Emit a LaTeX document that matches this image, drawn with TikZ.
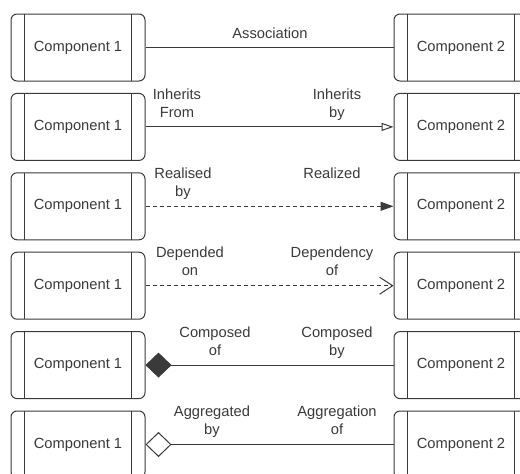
\documentclass[tikz,border=0pt]{standalone}
\usepackage{fontspec}
\setmainfont{Liberation Sans}
\usetikzlibrary{arrows.meta, positioning}
\definecolor{ink}{HTML}{3A3A3A}

\begin{document}
\begin{tikzpicture}[
  x=1pt, y=-1pt,
  comp/.style={rectangle, draw=ink, line width=1pt, rounded corners=6pt,
               minimum width=134pt, minimum height=67pt, inner sep=0pt,
               text=ink, font=\fontsize{14.7}{18}\selectfont,
               path picture={
                 \draw[ink, line width=1pt, sharp corners]
                   ([xshift=13.5pt]path picture bounding box.north west) --
                   ([xshift=13.5pt]path picture bounding box.south west)
                   ([xshift=-13.5pt]path picture bounding box.north east) --
                   ([xshift=-13.5pt]path picture bounding box.south east);}},
  lbl/.style={anchor=north, inner sep=0pt, align=center, text=ink,
              font=\fontsize{14.7}{18}\selectfont},
  link/.style={draw=ink, line width=1pt},
  dashlink/.style={link, dash pattern=on 4pt off 3pt}
]

\useasboundingbox[fill=white] (0,0) rectangle (520,474);

% boxes, one pair per row
\foreach \i in {1,...,6} {
  \pgfmathsetmacro{\rowy}{47.5+79.4*(\i-1)}
  \node[comp] (left\i) at (78,\rowy) {Component 1};
  \node[comp] (right\i) at (461,\rowy) {Component 2};
}

% association
\draw[link] (left1) -- (right1);
\node[lbl] (assoc) at (270,27.5) {Association};

% inheritance
\draw[link, -{Triangle[open, length=12pt, width=8pt]}] (left2) -- (right2);
\node[lbl] (inhfrom) at (177,88.2) {Inherits\\From};
\node[lbl] (inhby) at (337,88.2) {Inherits\\by};

% realisation
\draw[dashlink, -{Triangle[length=13pt, width=9pt]}] (left3) -- (right3);
\node[lbl] (realby) at (183,167.6) {Realised\\by};
\node[lbl] (realized) at (332,167.6) {Realized};

% dependency
\draw[dashlink, -{Straight Barb[length=13pt, width=17pt]}] (left4) -- (right4);
\node[lbl] (depon) at (190,247) {Depended\\on};
\node[lbl] (depof) at (332,247) {Dependency\\of};

% composition
\draw[link, {Diamond[length=26pt, width=25pt, fill=ink]}-] (left5) -- (right5);
\node[lbl] (compof) at (215,326.4) {Composed\\of};
\node[lbl] (compby) at (337,326.4) {Composed\\by};

% aggregation
\draw[link, {Diamond[open, length=26pt, width=25pt, fill=white]}-] (left6) -- (right6);
\node[lbl] (aggby) at (212,405.8) {Aggregated\\by};
\node[lbl] (aggof) at (337,405.8) {Aggregation\\of};

\end{tikzpicture}
\end{document}
